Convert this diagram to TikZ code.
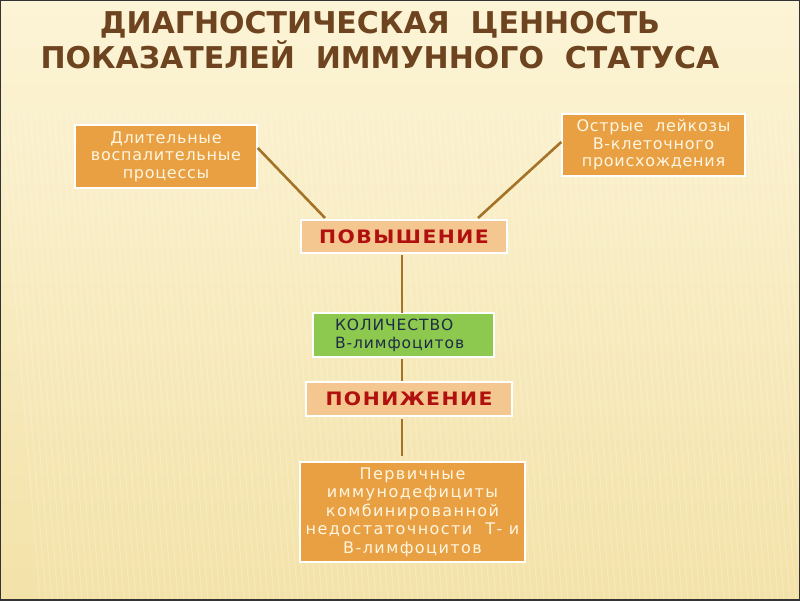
\documentclass[tikz,border=0pt]{standalone}
\usepackage{fontspec}
\setmainfont{DejaVu Sans}
\newfontfamily\boxfont[LetterSpace=4.5]{DejaVu Sans}
\newfontfamily\widefont[LetterSpace=9]{DejaVu Sans}
\newfontfamily\greenfont[LetterSpace=6]{DejaVu Sans}
\newfontfamily\capfont[LetterSpace=8,FakeStretch=1.1]{DejaVu Sans}
\definecolor{bgtop}{HTML}{FCF4D6}
\definecolor{bgbot}{HTML}{F3E2A8}
\definecolor{titlec}{HTML}{6E4420}
\definecolor{orangebox}{HTML}{E8A043}
\definecolor{peach}{HTML}{F4C690}
\definecolor{redtxt}{HTML}{B0100E}
\definecolor{greenbox}{HTML}{8DC94E}
\definecolor{navytxt}{HTML}{1E2B45}
\definecolor{linkc}{HTML}{A57328}
\definecolor{boxtxt}{HTML}{FFF6E2}
\tikzset{
  obox/.style={fill=orangebox, draw=white, line width=1.5pt, text=boxtxt, align=center, inner sep=0pt, font=\boxfont\fontsize{16}{17.5}\selectfont},
  pbox/.style={fill=peach, draw=white, line width=1.5pt, text=redtxt, inner sep=0pt, font=\capfont\fontsize{18.5}{20}\selectfont\bfseries},
  gbox/.style={fill=greenbox, draw=white, line width=1.5pt, text=navytxt, align=left, inner sep=0pt, font=\greenfont\fontsize{15.5}{18}\selectfont},
  link/.style={draw=linkc, line width=2.6pt},
}
\begin{document}
\begin{tikzpicture}[x=1pt,y=-1pt]
\useasboundingbox (0,0) rectangle (800,600);
\shade[top color=bgtop, bottom color=bgbot] (0,0) rectangle (800,600);
\foreach \i in {0,6,...,800} {
  \draw[white, opacity=0.2, line width=1.2pt] (\i,110) -- (\i+40,600);
}
\draw[black!80, line width=1.5pt] (0,0) rectangle (800,600);
\node[text=titlec, font=\fontsize{30}{35}\selectfont\bfseries, align=center] (title) at (380,40)
  {ДИАГНОСТИЧЕСКАЯ\ \ ЦЕННОСТЬ\\ПОКАЗАТЕЛЕЙ\ \ ИММУННОГО\ \ СТАТУСА};
\node[obox, minimum width=182pt, minimum height=63pt] (left) at (166,156.5)
  {Длительные\\воспалительные\\процессы};
\node[obox, minimum width=183pt, minimum height=62pt] (right) at (653.5,145)
  {Острые\ \ лейкозы\\В-клеточного\\происхождения};
\node[pbox, minimum width=206pt, minimum height=33pt] (up) at (404,236.5) {ПОВЫШЕНИЕ};
\node[gbox, minimum width=181pt, minimum height=44pt, text width=181pt] (count) at (403.5,335)
  {\hspace*{22pt}КОЛИЧЕСТВО\\\hspace*{22pt}В-лимфоцитов};
\node[pbox, minimum width=206pt, minimum height=34pt] (down) at (409,399) {ПОНИЖЕНИЕ};
\node[obox, minimum width=225pt, minimum height=100pt, font=\widefont\fontsize{16}{18.5}\selectfont] (bottom) at (412.5,512)
  {Первичные\\иммунодефициты\\комбинированной\\недостаточности\ \ Т- и\\В-лимфоцитов};
\coordinate (upL) at (325,218);
\coordinate (upR) at (478,218);
\draw[link] (left.east |- 0,148) -- (upL);
\draw[link] (right.west |- 0,142) -- (upR);
\draw[link] (402,255) -- (402,313);
\draw[link] (402,359) -- (402,381);
\draw[link] (402,419) -- (402,456);
\end{tikzpicture}
\end{document}
